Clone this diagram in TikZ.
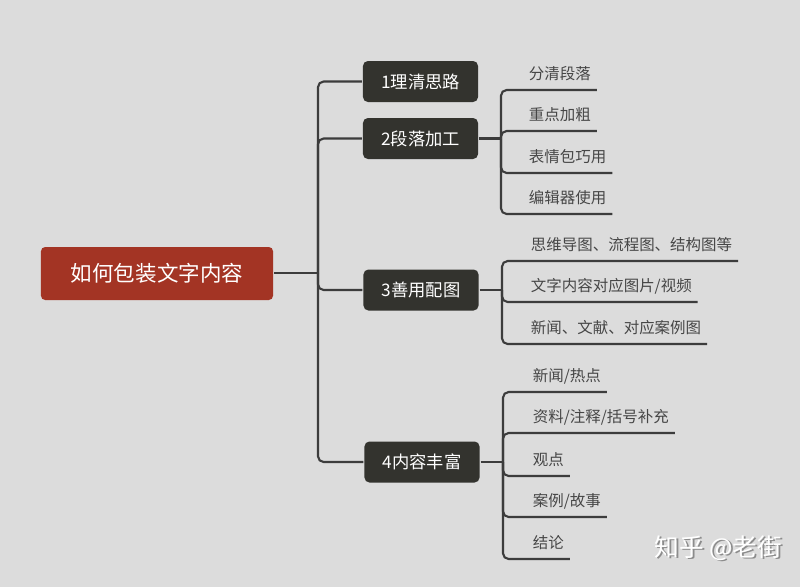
\documentclass[tikz,border=0pt]{standalone}
\usepackage{fontspec}
\setmainfont{Noto Sans CJK SC}
\definecolor{bgcol}{HTML}{DCDCDC}
\definecolor{rootred}{HTML}{A33424}
\definecolor{boxdark}{HTML}{33332E}
\definecolor{linegray}{HTML}{3C3C3C}
\definecolor{txtgray}{HTML}{464646}

\begin{document}
\begin{tikzpicture}[x=0.025cm,y=-0.025cm,line width=1.5pt,
  every node/.style={font=\fontsize{11}{13}\selectfont,text=txtgray},
  rootbox/.style={fill=rootred,rounded corners=3pt,minimum width=5.8cm,minimum height=1.325cm,
    text=white,font=\fontsize{15.3}{18}\selectfont},
  topicbox/.style={fill=boxdark,rounded corners=3.5pt,minimum width=2.875cm,minimum height=1.025cm,
    text=white,font=\fontsize{12.3}{14}\selectfont},
  leaf/.style={anchor=south west,inner xsep=3.5pt,inner ysep=5pt,text height=0.8em,text depth=0.2em},
  link/.style={draw=linegray,rounded corners=4pt}]
\fill[bgcol] (0,0) rectangle (800,587);
\useasboundingbox (0,0) rectangle (800,587);

% root and main topics
\node[rootbox] (root) at (157,273.5) {如何包装文字内容};
\node[topicbox] (t1) at (420.5,81.5) {1理清思路};
\node[topicbox] (t2) at (420.5,138.5) {2段落加工};
\node[topicbox] (t3) at (421,290) {3善用配图};
\node[topicbox] (t4) at (422,462) {4内容丰富};
\coordinate (j0) at (318,273);
\draw[link] (root.east |- j0) -- (j0);
\draw[link] (j0) |- (t1.west);
\draw[link] (j0) |- (t2.west);
\draw[link] (j0) |- (t3.west);
\draw[link] (j0) |- (t4.west);

% 2段落加工
\coordinate (j2) at (501,138.5);
\node[leaf] (c21) at (523,90) {分清段落};
\node[leaf] (c22) at (523,131) {重点加粗};
\node[leaf] (c23) at (523,173) {表情包巧用};
\node[leaf] (c24) at (523,214) {编辑器使用};
\draw[link] (t2.east) -- (j2);
\draw[link] (j2) |- (c21.south east);
\draw[link] (j2) |- (c22.south east);
\draw[link] (j2) |- (c23.south east);
\draw[link] (j2) |- (c24.south east);

% 3善用配图
\coordinate (j3) at (502,290);
\node[leaf] (c31) at (525,261) {思维导图、流程图、结构图等};
\node[leaf] (c32) at (525,302) {文字内容对应图片/视频};
\node[leaf] (c33) at (525,344) {新闻、文献、对应案例图};
\draw[link] (t3.east) -- (j3);
\draw[link] (j3) |- (c31.south east);
\draw[link] (j3) |- (c32.south east);
\draw[link] (j3) |- (c33.south east);

% 4内容丰富
\coordinate (j4) at (503,462);
\node[leaf] (c41) at (527,392) {新闻/热点};
\node[leaf] (c42) at (527,433) {资料/注释/括号补充};
\node[leaf] (c43) at (527,476) {观点};
\node[leaf] (c44) at (527,517) {案例/故事};
\node[leaf] (c45) at (527,559) {结论};
\draw[link] (t4.east) -- (j4);
\draw[link] (j4) |- (c41.south east);
\draw[link] (j4) |- (c42.south east);
\draw[link] (j4) |- (c43.south east);
\draw[link] (j4) |- (c44.south east);
\draw[link] (j4) |- (c45.south east);

% watermark
\node[text=black!45,font=\fontsize{17.5}{20}\selectfont] (markshadow) at (720,549.5) {知乎 @老街};
\node[text=white,font=\fontsize{17.5}{20}\selectfont] (mark) at (718.5,548) {知乎 @老街};
\end{tikzpicture}
\end{document}
